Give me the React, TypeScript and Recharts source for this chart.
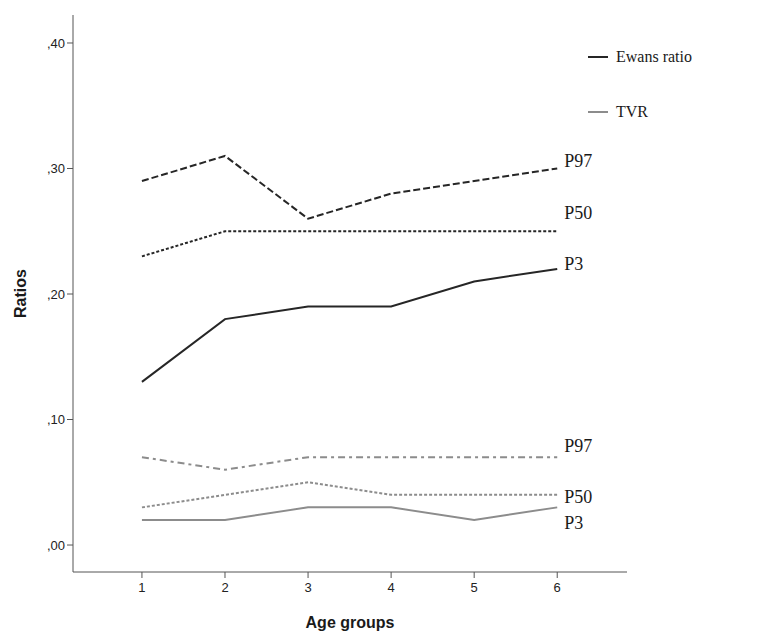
import { LabelList, Legend, Line, LineChart, XAxis, YAxis } from "recharts"

// age groups on the x axis
const ageGroups = [1, 2, 3, 4, 5, 6]

// Ewans ratio percentiles
const ewansP3 = [0.13, 0.18, 0.19, 0.19, 0.21, 0.22]
const ewansP50 = [0.23, 0.25, 0.25, 0.25, 0.25, 0.25]
const ewansP97 = [0.29, 0.31, 0.26, 0.28, 0.29, 0.3]

// TVR percentiles
const tvrP3 = [0.02, 0.02, 0.03, 0.03, 0.02, 0.03]
const tvrP50 = [0.03, 0.04, 0.05, 0.04, 0.04, 0.04]
const tvrP97 = [0.07, 0.06, 0.07, 0.07, 0.07, 0.07]

const yTicks = [0, 0.1, 0.2, 0.3, 0.4]

const rows = ageGroups.map((age, i) => ({
  age,
  ewP3: ewansP3[i],
  ewP50: ewansP50[i],
  ewP97: ewansP97[i],
  tvP3: tvrP3[i],
  tvP50: tvrP50[i],
  tvP97: tvrP97[i],
}))

const EWANS = "#262626"
const TVR = "#8c8c8c"
const SANS = "'Liberation Sans', Arial, sans-serif"
const SERIF = "'Liberation Serif', 'Times New Roman', serif"
const lastIndex = ageGroups.length - 1

// label at the right end of a line, only drawn on the last point
const endLabel = (text: string, dy: number) => (props: any) => {
  if (props.index !== lastIndex) return null
  return (
    <text
      x={props.x + 7}
      y={props.y + dy}
      dominantBaseline="central"
      fontFamily={SERIF}
      fontSize={18}
      fill="#1a1a1a"
    >
      {text}
    </text>
  )
}

const formatRatio = (v: number) => v.toFixed(2).replace(/^0\./, ",")

function LegendBox({ payload }: any) {
  const items = (payload || []).filter((p: any) => p.type !== "none")
  return (
    <div style={{ fontFamily: SERIF, fontSize: 16, color: "#1a1a1a" }}>
      {items.map((item: any) => (
        <div key={item.value} style={{ display: "flex", alignItems: "center", height: 22, marginBottom: 33 }}>
          <svg width={20} height={4} style={{ marginRight: 8 }}>
            <line x1={0} y1={2} x2={20} y2={2} stroke={item.color} strokeWidth={2} />
          </svg>
          <span>{item.value}</span>
        </div>
      ))}
    </div>
  )
}

function YLabel({ viewBox }: any) {
  const cx = 20
  const cy = viewBox.y + viewBox.height / 2
  return (
    <text
      x={cx}
      y={cy}
      transform={`rotate(-90, ${cx}, ${cy})`}
      textAnchor="middle"
      dominantBaseline="central"
      fontFamily={SANS}
      fontWeight="bold"
      fontSize={16}
      fill="#1a1a1a"
    >
      Ratios
    </text>
  )
}

function XLabel({ viewBox }: any) {
  return (
    <text
      x={viewBox.x + viewBox.width / 2}
      y={628}
      textAnchor="middle"
      fontFamily={SANS}
      fontWeight="bold"
      fontSize={16}
      fill="#1a1a1a"
    >
      Age groups
    </text>
  )
}

export default function App() {
  return (
    <div style={{ position: "absolute", left: 0, top: 0, background: "#fff" }}>
      <LineChart width={777} height={634} data={rows} margin={{ top: 15, right: 150, bottom: 22, left: 0 }}>
        <XAxis
          dataKey="age"
          type="number"
          domain={[0.17, 6.84]}
          ticks={ageGroups}
          allowDataOverflow
          height={40}
          tickSize={6}
          stroke="#555"
          tick={{ fill: "#222", fontFamily: SANS, fontSize: 13, dy: 3 }}
          label={<XLabel />}
        />
        <YAxis
          type="number"
          domain={[-0.0215, 0.4223]}
          ticks={yTicks}
          allowDataOverflow
          width={73}
          tickSize={6}
          stroke="#555"
          tickFormatter={formatRatio}
          tick={{ fill: "#222", fontFamily: SANS, fontSize: 13 }}
          label={<YLabel />}
        />
        <Legend
          layout="vertical"
          align="center"
          verticalAlign="middle"
          wrapperStyle={{ left: 588, top: 46, width: 180 }}
          content={<LegendBox />}
        />
        <Line dataKey="ewP97" legendType="none" stroke={EWANS} strokeWidth={2} strokeDasharray="7 3" dot={false} isAnimationActive={false}>
          <LabelList content={endLabel("P97", -7)} />
        </Line>
        <Line dataKey="ewP50" legendType="none" stroke={EWANS} strokeWidth={2} strokeDasharray="3 2" dot={false} isAnimationActive={false}>
          <LabelList content={endLabel("P50", -18)} />
        </Line>
        <Line dataKey="ewP3" name="Ewans ratio" stroke={EWANS} strokeWidth={2} dot={false} isAnimationActive={false}>
          <LabelList content={endLabel("P3", -5)} />
        </Line>
        <Line dataKey="tvP97" legendType="none" stroke={TVR} strokeWidth={2} strokeDasharray="7 4 3 4" dot={false} isAnimationActive={false}>
          <LabelList content={endLabel("P97", -11)} />
        </Line>
        <Line dataKey="tvP50" legendType="none" stroke={TVR} strokeWidth={2} strokeDasharray="3 2" dot={false} isAnimationActive={false}>
          <LabelList content={endLabel("P50", 2)} />
        </Line>
        <Line dataKey="tvP3" name="TVR" stroke={TVR} strokeWidth={2} dot={false} isAnimationActive={false}>
          <LabelList content={endLabel("P3", 16)} />
        </Line>
      </LineChart>
    </div>
  )
}
